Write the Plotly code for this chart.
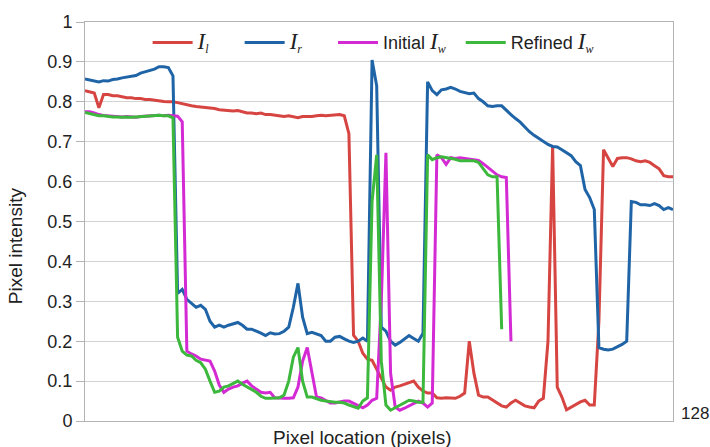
import plotly.graph_objects as go

x_pos = list(range(1, 129))

I_l = [0.828, 0.825, 0.822, 0.785, 0.818, 0.818, 0.815, 0.815, 0.812, 0.810,
       0.810, 0.808, 0.808, 0.806, 0.806, 0.804, 0.803, 0.801, 0.800, 0.800,
       0.798, 0.795, 0.792, 0.790, 0.788, 0.787, 0.786, 0.785, 0.783, 0.780,
       0.779, 0.778, 0.777, 0.778, 0.775, 0.772, 0.772, 0.770, 0.772, 0.768,
       0.768, 0.766, 0.765, 0.763, 0.765, 0.762, 0.760, 0.763, 0.763, 0.763,
       0.765, 0.766, 0.765, 0.766, 0.767, 0.768, 0.765, 0.720, 0.215, 0.200,
       0.170, 0.155, 0.152, 0.130, 0.105, 0.085, 0.077, 0.085, 0.088, 0.092,
       0.095, 0.100, 0.085, 0.075, 0.070, 0.070, 0.058, 0.057, 0.058, 0.057,
       0.057, 0.062, 0.070, 0.200, 0.120, 0.065, 0.060, 0.060, 0.052, 0.045,
       0.038, 0.035, 0.045, 0.052, 0.045, 0.038, 0.035, 0.033, 0.050, 0.057,
       0.200, 0.690, 0.085, 0.060, 0.028, 0.035, 0.040, 0.048, 0.052, 0.040,
       0.040, 0.250, 0.680, 0.660, 0.638, 0.658, 0.660, 0.660, 0.657, 0.652,
       0.650, 0.652, 0.648, 0.640, 0.632, 0.615, 0.612, 0.612]

I_r = [0.857, 0.855, 0.853, 0.850, 0.853, 0.852, 0.856, 0.857, 0.860, 0.862,
       0.865, 0.866, 0.872, 0.876, 0.878, 0.882, 0.888, 0.888, 0.886, 0.865,
       0.320, 0.330, 0.305, 0.295, 0.285, 0.290, 0.280, 0.250, 0.235, 0.240,
       0.235, 0.240, 0.243, 0.247, 0.240, 0.230, 0.230, 0.226, 0.220, 0.214,
       0.221, 0.218, 0.219, 0.225, 0.235, 0.285, 0.345, 0.260, 0.219, 0.222,
       0.218, 0.214, 0.200, 0.200, 0.210, 0.212, 0.206, 0.200, 0.197, 0.200,
       0.208, 0.200, 0.905, 0.840, 0.235, 0.225, 0.200, 0.190, 0.197, 0.205,
       0.214, 0.207, 0.200, 0.220, 0.850, 0.828, 0.818, 0.830, 0.832, 0.836,
       0.832, 0.826, 0.822, 0.820, 0.822, 0.808, 0.800, 0.790, 0.788, 0.790,
       0.790, 0.778, 0.768, 0.758, 0.749, 0.737, 0.725, 0.716, 0.708, 0.700,
       0.693, 0.688, 0.687, 0.680, 0.672, 0.665, 0.650, 0.640, 0.580, 0.560,
       0.530, 0.184, 0.180, 0.178, 0.180, 0.185, 0.192, 0.200, 0.550, 0.548,
       0.542, 0.542, 0.540, 0.545, 0.540, 0.530, 0.535, 0.530]

I_w_initial = [0.775, 0.775, 0.772, 0.768, 0.766, 0.765, 0.764, 0.763, 0.762, 0.763,
               0.762, 0.761, 0.763, 0.764, 0.765, 0.766, 0.766, 0.765, 0.766, 0.765,
               0.764, 0.750, 0.175, 0.168, 0.163, 0.155, 0.152, 0.150, 0.125, 0.090,
               0.072, 0.080, 0.085, 0.088, 0.095, 0.100, 0.088, 0.080, 0.072, 0.070,
               0.072, 0.058, 0.057, 0.057, 0.057, 0.058, 0.085, 0.150, 0.184, 0.120,
               0.060, 0.058, 0.052, 0.045, 0.045, 0.047, 0.050, 0.050, 0.045, 0.038,
               0.033, 0.040, 0.052, 0.057, 0.300, 0.672, 0.120, 0.035, 0.027, 0.032,
               0.038, 0.045, 0.050, 0.045, 0.035, 0.045, 0.667, 0.660, 0.643, 0.660,
               0.658, 0.660, 0.658, 0.656, 0.655, 0.653, 0.645, 0.636, 0.628, 0.617,
               0.612, 0.610, 0.200] + [None] * 35

I_w_refined = [0.773, 0.770, 0.768, 0.765, 0.765, 0.763, 0.762, 0.762, 0.761, 0.762,
               0.761, 0.762, 0.763, 0.764, 0.765, 0.766, 0.766, 0.765, 0.765, 0.760,
               0.210, 0.175, 0.165, 0.163, 0.152, 0.146, 0.130, 0.100, 0.072, 0.075,
               0.085, 0.088, 0.094, 0.100, 0.092, 0.085, 0.078, 0.072, 0.062, 0.057,
               0.057, 0.057, 0.058, 0.065, 0.100, 0.160, 0.184, 0.100, 0.060, 0.060,
               0.055, 0.052, 0.050, 0.048, 0.047, 0.047, 0.045, 0.040, 0.035, 0.032,
               0.050, 0.058, 0.550, 0.667, 0.150, 0.040, 0.027, 0.033, 0.040, 0.045,
               0.052, 0.050, 0.047, 0.047, 0.667, 0.655, 0.660, 0.662, 0.660, 0.657,
               0.656, 0.652, 0.652, 0.652, 0.652, 0.648, 0.632, 0.617, 0.612, 0.612,
               0.230] + [None] * 37

y_ticks = [0, 0.1, 0.2, 0.3, 0.4, 0.5, 0.6, 0.7, 0.8, 0.9, 1]
y_tick_text = ["0", "0.1", "0.2", "0.3", "0.4", "0.5", "0.6", "0.7", "0.8", "0.9", "1"]

SERIF_I = "<span style=\"font-family:'Liberation Serif';font-style:italic;font-size:23px\">I</span>"

def sub(c):
    return ("<sub><span style=\"font-family:'Liberation Serif';font-style:italic;font-size:12px\">"
            + c + "</span></sub>")

PAD = "&nbsp;" * 5
names = [SERIF_I + sub("l") + PAD, SERIF_I + sub("r") + PAD,
         "Initial " + SERIF_I + sub("w") + "&nbsp;&nbsp;", "Refined " + SERIF_I + sub("w")]
colors = ["#d64541", "#1f64a6", "#d42ad4", "#3cb83c"]
series = [I_l, I_r, I_w_initial, I_w_refined]

fig = go.Figure()
for name, col, ys in zip(names, colors, series):
    fig.add_trace(go.Scatter(x=x_pos, y=ys, mode="lines", name=name,
                             line=dict(color=col, width=3), connectgaps=False))

fig.update_layout(
    width=710, height=447,
    margin=dict(l=85, r=37, t=19, b=26),
    paper_bgcolor="white", plot_bgcolor="white",
    font=dict(family="Liberation Sans, Arial, sans-serif", size=18, color="#222222"),
    showlegend=True,
    legend=dict(orientation="h", x=0.49, xanchor="center", y=0.948, yanchor="middle",
                bgcolor="rgba(0,0,0,0)", font=dict(size=18), itemwidth=40,
                tracegroupgap=0),
    xaxis=dict(range=[1, 128], showgrid=False, showticklabels=False, ticks="",
               showline=True, linecolor="#b3b3b3", linewidth=1, mirror=True,
               zeroline=False, fixedrange=True),
    yaxis=dict(range=[0, 1], tickvals=y_ticks, ticktext=y_tick_text,
               showgrid=True, gridcolor="#d3d3d3", gridwidth=1,
               ticks="outside", ticklen=8, tickcolor="#b3b3b3",
               showline=True, linecolor="#b3b3b3", linewidth=1, mirror=True,
               zeroline=False, tickfont=dict(size=18)),
    annotations=[
        dict(text="Pixel intensity", xref="paper", yref="paper", x=0, y=0.438,
             xanchor="center", yanchor="middle", xshift=-70, textangle=-90,
             showarrow=False, font=dict(size=19)),
        dict(text="Pixel location (pixels)", xref="paper", yref="paper", x=0.471, y=0,
             xanchor="center", yanchor="middle", yshift=-16,
             showarrow=False, font=dict(size=19)),
        dict(text="128", xref="paper", yref="paper", x=1, y=0,
             xanchor="left", yanchor="middle", xshift=6, yshift=8,
             showarrow=False, font=dict(size=17)),
    ],
)

fig.write_html("out.html")
